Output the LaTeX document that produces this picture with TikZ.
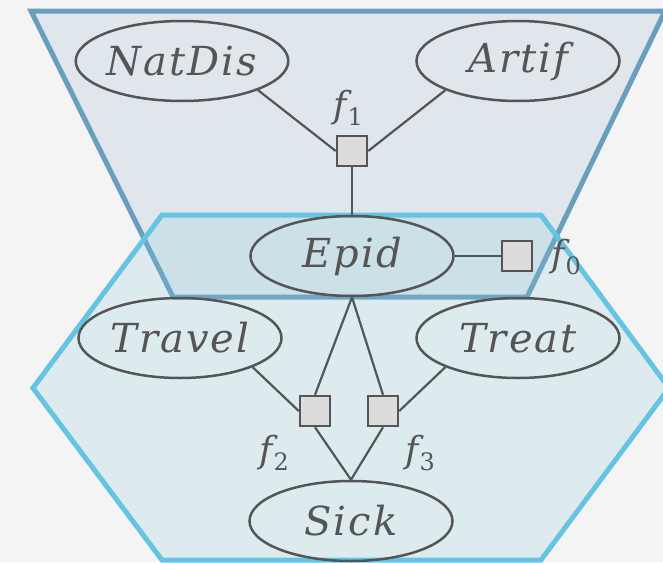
\documentclass[tikz,border=0pt]{standalone}
\usepackage{fontspec}
\setmainfont{DejaVu Serif}
\newfontfamily\spacedserif{DejaVu Serif}[LetterSpace=5]
\usetikzlibrary{shapes.geometric}

\definecolor{bg}{HTML}{F4F4F4}
\definecolor{trapfill}{HTML}{DFE6EC}
\definecolor{trapline}{HTML}{6A9EBE}
\definecolor{hexline}{HTML}{66C4E2}
\definecolor{hexfill}{RGB}{130,200,220}
\definecolor{ink}{HTML}{555555}
\definecolor{boxfill}{HTML}{DCDCDC}

\newcommand\varfont{\spacedserif\fontsize{40}{42}\selectfont\itshape}
\newcommand\labfont{\fontsize{36}{38}\selectfont\itshape}
\newcommand\fsub[1]{{\itshape f}\kern1pt\raisebox{-8pt}{\fontsize{24}{24}\selectfont\upshape #1}}

\begin{document}
\begin{tikzpicture}[x=1pt,y=-1pt,
  var/.style={ellipse, draw=ink, line width=2.5pt, minimum width=203pt,
    minimum height=80pt, inner sep=0pt, font=\varfont, text=ink},
  factor/.style={rectangle, draw=ink, fill=boxfill, line width=2.5pt,
    minimum size=30pt, inner sep=0pt},
  flabel/.style={text=ink, font=\labfont, inner sep=0pt},
  edge/.style={draw=ink, line width=2.2pt},
  region/.style={line width=5pt, line join=miter}]

  % canvas
  \fill[bg] (0,0) rectangle (663,562);
  \useasboundingbox (0,0) rectangle (663,562);

  % upper cluster (trapezoid)
  \draw[region, draw=trapline, fill=trapfill]
    (31,11) -- (665,11) -- (527,297) -- (173,297) -- cycle;
  % lower cluster (hexagon), translucent over the trapezoid
  \fill[hexfill, fill opacity=0.2]
    (162,215) -- (541,215) -- (669,388) -- (541,560) -- (162,560) -- (33,388) -- cycle;
  \draw[region, draw=hexline]
    (162,215) -- (541,215) -- (669,388) -- (541,560) -- (162,560) -- (33,388) -- cycle;

  % variables
  \node[var] (NatDis) at (182,61)  {NatDis};
  \node[var] (Artif)  at (518,61)  {Artif};
  \node[var] (Epid)   at (352,256) {Epid};
  \node[var] (Travel) at (180,338) {Travel};
  \node[var] (Treat)  at (518,338) {Treat};
  \node[var] (Sick)   at (351,521) {Sick};

  % factors
  \node[factor] (f1) at (352,151) {};
  \node[factor] (f0) at (517,256) {};
  \node[factor] (f2) at (315,411) {};
  \node[factor] (f3) at (383,411) {};

  % factor labels
  \node[flabel] (l1) at (348,108) {\fsub{1}};
  \node[flabel] (l0) at (566,257) {\fsub{0}};
  \node[flabel] (l2) at (274,453) {\fsub{2}};
  \node[flabel] (l3) at (420,453) {\fsub{3}};

  % connectors
  \draw[edge] (NatDis.south east) -- (f1.west);
  \draw[edge] (Artif.south west) -- (f1.east);
  \draw[edge] (f1.south) -- (Epid.north);
  \draw[edge] (Epid.east) -- (f0.west);
  \draw[edge] (Travel.south east) -- (f2.west);
  \draw[edge] (Treat.south west) -- (f3.east);
  \draw[edge] (Epid.south) -- (f2.north);
  \draw[edge] (Epid.south) -- (f3.north);
  \draw[edge] (f2.south) -- (Sick.north);
  \draw[edge] (f3.south) -- (Sick.north);
\end{tikzpicture}
\end{document}
